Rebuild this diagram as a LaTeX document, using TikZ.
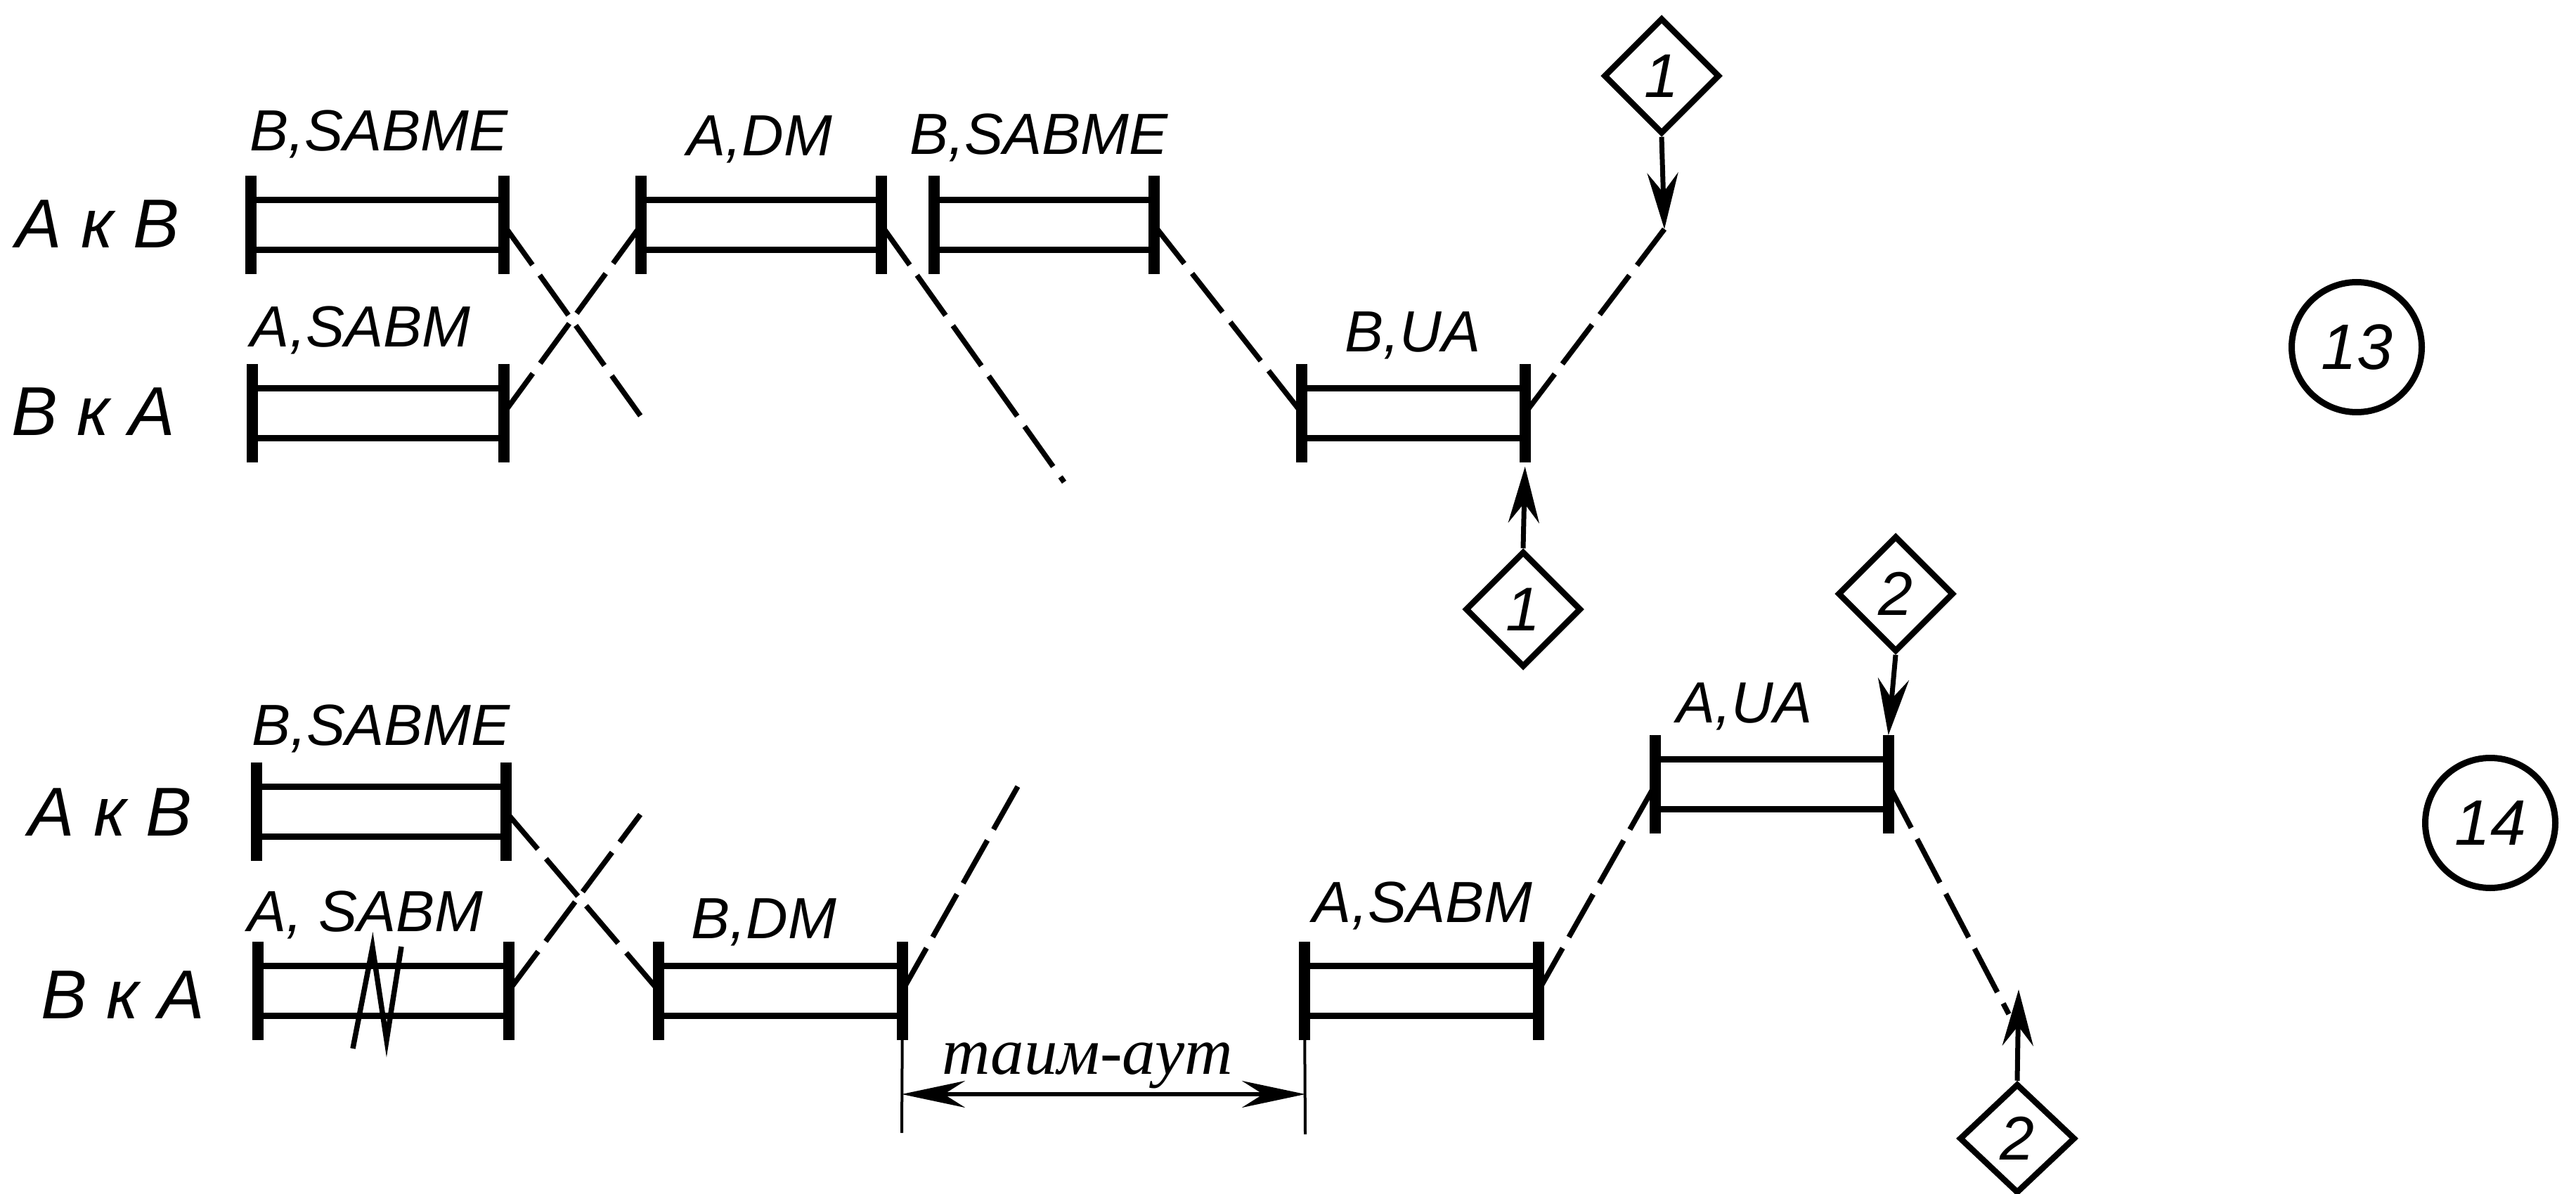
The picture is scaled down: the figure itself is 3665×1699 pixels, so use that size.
\documentclass[tikz,border=0pt]{standalone}
\usepackage{fontspec}
\setmainfont{Liberation Sans}
\newfontfamily\serifcyr{Liberation Serif}
\usetikzlibrary{arrows.meta,shapes.geometric}

\tikzset{
 rbox/.style={rectangle, inner sep=0pt, minimum height=7mm},
 hline/.style={line width=0.95mm},
 barline/.style={line width=1.6mm},
 dsh/.style={line width=0.75mm, dash pattern=on 7mm off 1.8mm},
 lbl/.style={inner sep=0pt, anchor=base, font=\itshape\fontsize{23.5}{24}\selectfont},
 rowlbl/.style={inner sep=0pt, anchor=base west, font=\itshape\fontsize{28}{30}\selectfont},
 dia/.style={diamond, draw, line width=0.85mm, inner sep=0pt, minimum width=16.5mm, minimum height=16.5mm, font=\itshape\fontsize{25}{26}\selectfont},
 arr/.style={line width=0.7mm, -{Stealth[length=8mm,width=4.4mm,inset=2.8mm]}},
 thinln/.style={line width=0.4mm},
 dimarr/.style={line width=0.6mm, {Stealth[length=9mm,width=3.8mm,inset=3mm]}-{Stealth[length=9mm,width=3.8mm,inset=3mm]}},
 numcirc/.style={circle, draw, line width=0.9mm, minimum size=18.5mm, inner sep=0pt, font=\itshape\fontsize{26}{26}\selectfont},
}

\newcommand\RBox[4]{%
  \node[rbox, minimum width=#4mm] (#1) at (#2,#3) {};
  \draw[hline] (#1.north west) -- (#1.north east) (#1.south west) -- (#1.south east);
  \draw[barline] ([yshift=7mm]#1.west) -- ([yshift=-7mm]#1.west)
                 ([yshift=7mm]#1.east) -- ([yshift=-7mm]#1.east);
}

\begin{document}
\begin{tikzpicture}[x=0.1mm, y=-0.1mm]
\useasboundingbox (0,0) rectangle (3665,1699);

% ---------- row labels ----------
\node[rowlbl] (r1) at (22,353) {A к B};
\node[rowlbl] (r2) at (16,619) {B к A};
\node[rowlbl] (r3) at (40,1189) {A к B};
\node[rowlbl] (r4) at (58,1449) {B к A};

% ---------- frames, upper diagram ----------
\RBox{b1}{537}{320}{35.8}
\RBox{b2}{538}{588}{35.6}
\RBox{b3}{1083}{320}{34.0}
\RBox{b4}{1485.5}{320}{31.1}
\RBox{b5}{2011}{588}{31.6}

% ---------- frames, lower diagram ----------
\RBox{b6}{542.5}{1155}{35.3}
\RBox{b7}{545.5}{1410}{35.5}
\RBox{b8}{1110.5}{1410}{34.5}
\RBox{b9}{2022.5}{1410}{33.1}
\RBox{b10}{2521}{1116}{33.0}

% ---------- frame labels ----------
\node[lbl] (l1) at (539,215) {B,SABME};
\node[lbl] (l2) at (513,494) {A,SABM};
\node[lbl] (l3) at (1081,222) {A,DM};
\node[lbl] (l4) at (1478,220) {B,SABME};
\node[lbl] (l5) at (2010,500) {B,UA};
\node[lbl] (l6) at (542,1060) {B,SABME};
\node[lbl] (l7) at (520,1325) {A, SABM};
\node[lbl] (l8) at (1087,1335) {B,DM};
\node[lbl] (l9) at (2024,1312) {A,SABM};
\node[lbl] (l10) at (2482,1028) {A,UA};

% ---------- error mark in b7 ----------
\draw[line width=0.75mm, line join=miter] (502,1492) -- (530,1348) -- (550,1480) -- (571,1347);

% ---------- free ends and junctions ----------
\coordinate (c1) at (915,597);
\coordinate (c2) at (1514,686);
\coordinate (c3) at (911,1159);
\coordinate (c4) at (1456,1105);
\coordinate (j1) at (2368,326);
\coordinate (j2) at (2858,1443);
\coordinate (t2) at (2872,1408);

% ---------- dashed transfers ----------
\draw[dsh] (b1.east) -- (c1);
\draw[dsh] (b2.east) -- (b3.west);
\draw[dsh] (b3.east) -- (c2);
\draw[dsh] (b4.east) -- (b5.west);
\draw[dsh] (b5.east) -- (j1);
\draw[dsh] (b6.east) -- (b8.west);
\draw[dsh] (b7.east) -- (c3);
\draw[dsh] (b8.east) -- (c4);
\draw[dsh] (b9.east) -- (b10.west);
\draw[dsh] (b10.east) -- (j2);

% ---------- connectors (diamonds) ----------
\node[dia] (d1t) at (2364,108) {1};
\node[dia] (d1b) at (2167,867) {1};
\node[dia] (d2t) at (2697,845) {2};
\node[dia, minimum height=15.6mm] (d2b) at (2870,1620) {2};

\draw[arr] (d1t.south) -- (j1);
\draw[arr] (d1b.north) -- ([yshift=-7.6mm]b5.east);
\draw[arr] (d2t.south) -- ([yshift=7mm]b10.east);
\draw[arr] (d2b.north) -- (t2);

% ---------- time-out dimension ----------
\coordinate (e1) at (1283,1612);
\coordinate (e2) at (1857,1614);
\coordinate (a1) at (1283,1557);
\coordinate (a2) at (1857,1557);
\draw[thinln] ([yshift=-7mm]b8.east) -- (e1);
\draw[thinln] ([yshift=-7mm]b9.west) -- (e2);
\draw[dimarr] (a1) -- (a2);
\node[anchor=base, inner sep=0pt, font=\serifcyr\itshape\fontsize{27}{28}\selectfont] (to) at (1547,1528) {таим-аут};

% ---------- figure numbers ----------
\node[numcirc] (n13) at (3353,494) {13};
\node[numcirc] (n14) at (3543,1171) {14};
\end{tikzpicture}
\end{document}
